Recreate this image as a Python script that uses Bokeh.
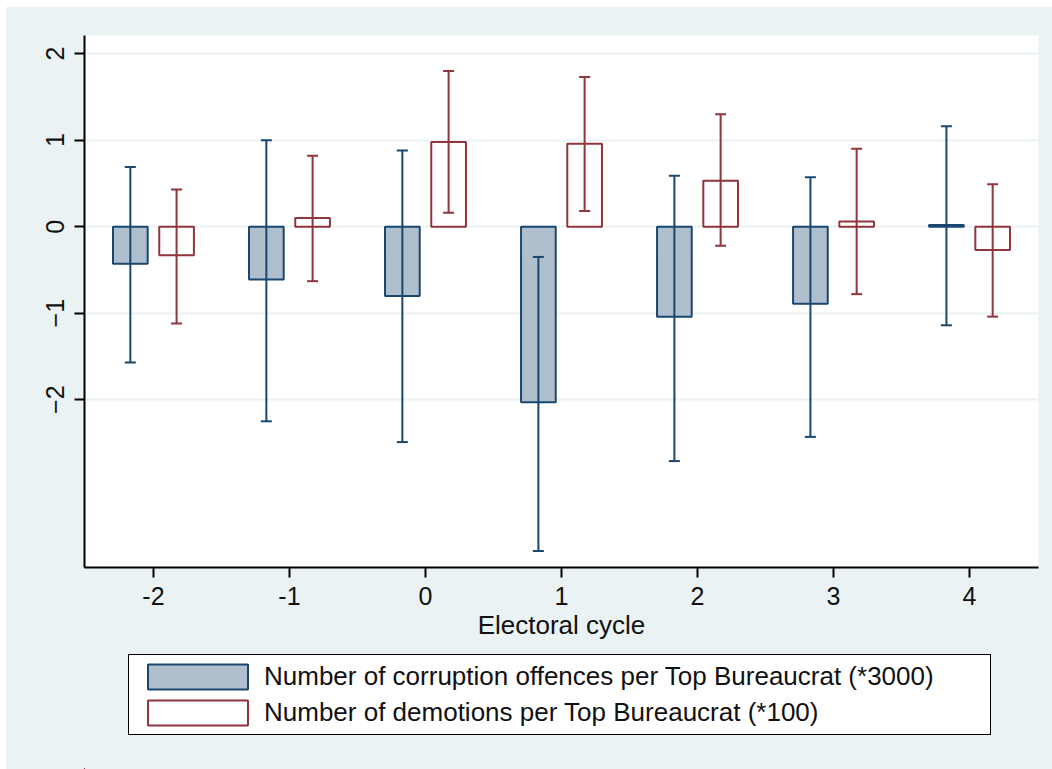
import numpy as np
from bokeh.plotting import figure
from bokeh.layouts import column
from bokeh.models import (ColumnDataSource, Range1d, Whisker, TeeHead, Legend,
                          LegendItem, FixedTicker)
from bokeh.embed import file_html
from bokeh.resources import INLINE

# ---- data ----
cycles = [-2, -1, 0, 1, 2, 3, 4]
x_tick_labels = ["-2", "-1", "0", "1", "2", "3", "4"]
y_ticks = [-2, -1, 0, 1, 2]

corruption = [-0.43, -0.61, -0.80, -2.03, -1.04, -0.89, 0.02]
corruption_lo = [-1.57, -2.25, -2.49, -3.75, -2.71, -2.43, -1.14]
corruption_hi = [0.69, 1.00, 0.88, -0.35, 0.59, 0.57, 1.16]

demotions = [-0.33, 0.10, 0.98, 0.96, 0.53, 0.06, -0.27]
demotions_lo = [-1.12, -0.63, 0.16, 0.18, -0.22, -0.78, -1.04]
demotions_hi = [0.43, 0.82, 1.80, 1.73, 1.30, 0.90, 0.49]

label_corr = "Number of corruption offences per Top Bureaucrat (*3000)"
label_dem = "Number of demotions per Top Bureaucrat (*100)"
x_title = "Electoral cycle"

# ---- style ----
BG = "#EAF2F3"
NAVY = "#1A476F"
NAVY_FILL = "#AFBFCE"
MAROON = "#90353B"
FONT = "Liberation Sans"
offset = 0.17
bar_w = 0.255

xc = np.array(cycles, dtype=float)
src_c = ColumnDataSource(dict(x=xc - offset, top=corruption, lo=corruption_lo, hi=corruption_hi))
src_d = ColumnDataSource(dict(x=xc + offset, top=demotions, lo=demotions_lo, hi=demotions_hi))

p = figure(width=1046, height=645, output_backend="svg", toolbar_location=None,
           x_range=Range1d(-2.507, 4.507), y_range=Range1d(-3.94, 2.21),
           min_border_left=78, min_border_right=14, min_border_top=28,
           min_border_bottom=85)
p.border_fill_color = BG
p.background_fill_color = "white"
p.outline_line_color = None

bar_style_c = dict(fill_color=NAVY_FILL, line_color=NAVY, line_width=2)
bar_style_d = dict(fill_color="white", line_color=MAROON, line_width=2)
p.vbar(x="x", top="top", bottom=0, width=bar_w, source=src_c, **bar_style_c)
p.vbar(x="x", top="top", bottom=0, width=bar_w, source=src_d, **bar_style_d)

for src, col in ((src_c, NAVY), (src_d, MAROON)):
    w = Whisker(source=src, base="x", lower="lo", upper="hi", level="overlay",
                line_color=col, line_width=2,
                upper_head=TeeHead(size=11, line_color=col, line_width=2),
                lower_head=TeeHead(size=11, line_color=col, line_width=2))
    p.add_layout(w)

# axes
p.xaxis.ticker = FixedTicker(ticks=cycles)
p.xaxis.major_label_overrides = {c: l for c, l in zip(cycles, x_tick_labels)}
p.yaxis.ticker = FixedTicker(ticks=y_ticks)
for ax in (p.xaxis, p.yaxis):
    ax.axis_line_color = "black"
    ax.axis_line_width = 2
    ax.major_tick_line_color = "black"
    ax.major_tick_line_width = 2
    ax.major_tick_out = 10
    ax.major_tick_in = 0
    ax.minor_tick_line_color = None
    ax.major_label_text_font = FONT
    ax.major_label_text_color = "#111111"
p.xaxis.major_label_text_font_size = "25px"
p.xaxis.major_label_standoff = 9
p.xaxis.axis_label = x_title
p.xaxis.axis_label_text_font = FONT
p.xaxis.axis_label_text_font_size = "26px"
p.xaxis.axis_label_text_font_style = "normal"
p.xaxis.axis_label_text_color = "#111111"
p.xaxis.axis_label_standoff = 2
p.yaxis.major_label_orientation = "vertical"
p.yaxis.major_label_text_font_size = "25px"
p.yaxis.major_label_standoff = 10

p.xgrid.grid_line_color = None
p.ygrid.grid_line_color = BG
p.ygrid.grid_line_width = 2

# ---- legend strip below the chart (proxy renderers kept out of view) ----
q = figure(width=1046, height=117, output_backend="svg", toolbar_location=None,
           x_range=Range1d(100, 101), y_range=Range1d(100, 101),
           x_axis_location=None, y_axis_location=None,
           min_border=0)
q.border_fill_color = BG
q.background_fill_color = BG
q.outline_line_color = None
q.grid.grid_line_color = None
lc = q.vbar(x="x", top="top", bottom=0, width=bar_w, source=src_c, **bar_style_c)
ld = q.vbar(x="x", top="top", bottom=0, width=bar_w, source=src_d, **bar_style_d)

legend = Legend(items=[LegendItem(label=label_corr, renderers=[lc], index=0),
                       LegendItem(label=label_dem, renderers=[ld], index=0)],
                location=(44, 34), orientation="vertical",
                glyph_width=125, glyph_height=31, label_height=25,
                label_width=720, label_standoff=4, spacing=5, padding=6,
                margin=0,
                label_text_font=FONT, label_text_font_size="26px",
                label_text_color="#111111",
                border_line_color="black", border_line_width=1.5,
                border_line_alpha=1,
                background_fill_color="white", background_fill_alpha=1)
q.add_layout(legend, "center")

layout = column(p, q, spacing=0, margin=(7, 0, 0, 6),
                styles={"background-color": BG})
open("out.html", "w").write(file_html(layout, INLINE))
